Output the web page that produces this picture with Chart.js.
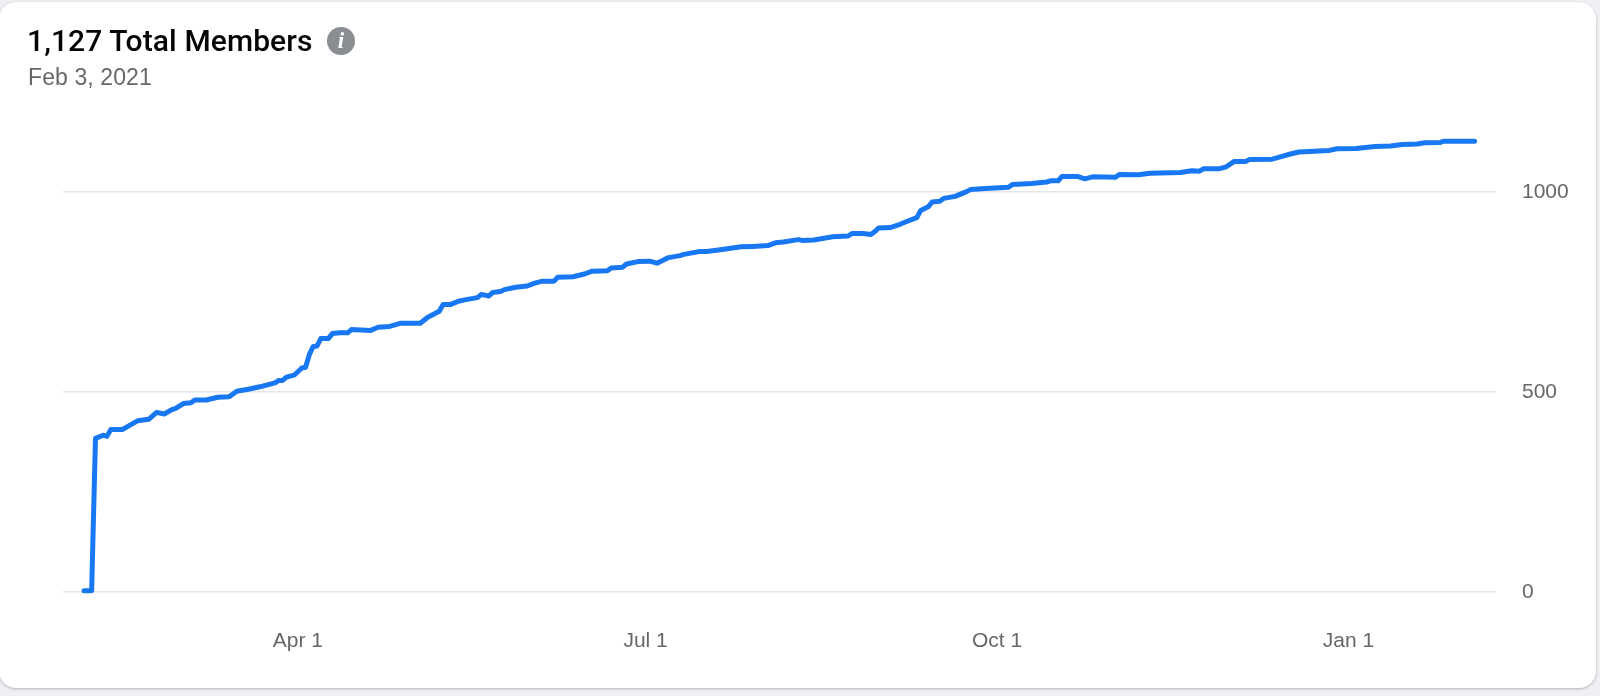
<!DOCTYPE html>
<html lang="en">

<head>
    <title>Total Members</title>
    <meta charset="utf-8">
    <script src="https://cdn.jsdelivr.net/npm/chart.js"></script>
    <style>
        html,
        body {
            margin: 0;
            width: 1600px;
            height: 696px;
            overflow: hidden;
            background-color: #eef0f4;
        }

        #card {
            position: absolute;
            left: -1px;
            top: 2px;
            width: 1597px;
            height: 686px;
            background-color: white;
            border-radius: 17px;
            box-shadow: 0 1px 3px rgba(0, 0, 0, 0.25);
        }

        #title {
            position: absolute;
            left: 27px;
            top: 23px;
            font: 500 30px Roboto, sans-serif;
            letter-spacing: 0.1px;
            line-height: 36px;
            color: #050505;
            white-space: nowrap;
        }

        #info {
            position: absolute;
            left: 327px;
            top: 27px;
            width: 28px;
            height: 28px;
            border-radius: 50%;
            background-color: #8a8d91;
            color: white;
            font: italic bold 23px/28px "Liberation Serif", serif;
            text-align: center;
        }

        #date {
            position: absolute;
            left: 28px;
            top: 63px;
            font: 23px "Liberation Sans", sans-serif;
            letter-spacing: 0.1px;
            line-height: 28px;
            color: #65676b;
            white-space: nowrap;
        }

        canvas {
            position: absolute;
            left: 0;
            top: 0;
        }
    </style>
</head>

<body>
    <div id="card"></div>
    <canvas id="membersChart" width="1600" height="696"></canvas>
    <div id="title">1,127 Total Members</div>
    <div id="info">i</div>
    <div id="date">Feb 3, 2021</div>

    <script>
        // days counted from Feb 4, 2020
        const days = [1, 3, 4, 6, 7, 8, 11, 15, 18, 20, 22, 24, 25, 27, 29, 30, 33, 36, 39, 41, 44, 47, 51, 52, 53, 54, 56,
            58, 59, 60, 61, 62, 63, 65, 66, 68, 70, 71, 76, 78, 81, 84, 89, 91, 94, 95, 97, 99, 101, 104, 105, 107, 108,
            110, 111, 114, 117, 119, 121, 124, 125, 129, 132, 134, 138, 139, 142, 143, 146, 149, 151, 154, 157, 158, 162,
            164, 168, 173, 176, 180, 182, 184, 188, 189, 192, 197, 201, 202, 205, 207, 208, 209, 212, 214, 216, 219, 220,
            222, 223, 225, 226, 229, 232, 233, 237, 243, 244, 249, 253, 254, 256, 257, 261, 263, 265, 271, 272, 277, 280,
            288, 291, 293, 294, 298, 300, 302, 305, 306, 312, 316, 319, 323, 327, 329, 334, 337, 339, 343, 346, 350, 352,
            356, 357, 365];
        const members = [3, 3, 384, 392, 389, 406, 406, 428, 432, 449, 445, 456, 459, 471, 473, 480, 480, 487, 488, 502, 507,
            513, 523, 529, 529, 537, 542,
            560, 562, 594, 614, 615, 634, 634, 646, 648, 648, 656, 654, 662, 664, 672, 672, 687, 702, 719, 719, 727, 731,
            736, 744, 740, 749,
            751, 756, 762, 765, 772, 777, 777, 787, 788, 795, 802, 803, 810, 812, 820, 826, 827, 822, 836, 841, 844, 851,
            851, 856, 863, 864, 866, 873, 875, 881, 879, 880, 888, 890, 896, 896, 894, 901, 910, 911, 917, 925, 936, 954,
            963, 975, 977, 984, 989, 1001, 1006, 1009, 1012, 1019, 1021, 1025, 1028, 1028, 1039, 1039, 1033, 1038, 1037,
            1044, 1043, 1047,
            1049, 1053, 1052, 1058, 1058, 1063, 1076, 1076, 1081, 1082, 1093, 1100, 1102, 1104, 1108, 1109, 1112, 1114,
            1115, 1119, 1120, 1123,
            1124, 1127, 1127];

        const tickDays = [57, 148, 240, 332];
        const tickLabels = ['Apr 1', 'Jul 1', 'Oct 1', 'Jan 1'];
        const tickValues = [0, 500, 1000];

        const tickFont = { family: '"Liberation Sans", sans-serif', size: 21 };

        new Chart(document.getElementById('membersChart').getContext('2d'), {
            type: 'line',
            data: {
                datasets: [{
                    data: days.map((d, i) => ({ x: d, y: members[i] })),
                    borderColor: '#1877f2',
                    borderWidth: 5,
                    borderCapStyle: 'round',
                    borderJoinStyle: 'round',
                    pointRadius: 0,
                    tension: 0,
                    clip: false
                }]
            },
            options: {
                responsive: false,
                animation: false,
                layout: { padding: { left: 63, top: 92 } },
                plugins: { legend: { display: false }, tooltip: { enabled: false } },
                scales: {
                    x: {
                        type: 'linear',
                        min: -4.5,
                        max: 370.6,
                        grid: { display: false },
                        border: { display: false },
                        afterBuildTicks: scale => { scale.ticks = tickDays.map(v => ({ value: v })); },
                        afterFit: scale => { scale.height = 104; },
                        ticks: {
                            autoSkip: false,
                            maxRotation: 0,
                            padding: 29,
                            font: tickFont,
                            color: '#65676b',
                            callback: v => tickLabels[tickDays.indexOf(v)]
                        }
                    },
                    y: {
                        position: 'right',
                        min: 0,
                        max: 1250,
                        border: { display: false },
                        grid: { color: '#e4e6eb', lineWidth: 1.5, drawTicks: false },
                        afterBuildTicks: scale => { scale.ticks = tickValues.map(v => ({ value: v })); },
                        afterFit: scale => { scale.width = 104; },
                        ticks: {
                            padding: 26,
                            crossAlign: 'near',
                            font: tickFont,
                            color: '#65676b',
                            callback: v => String(v)
                        }
                    }
                }
            }
        });
    </script>
</body>

</html>
